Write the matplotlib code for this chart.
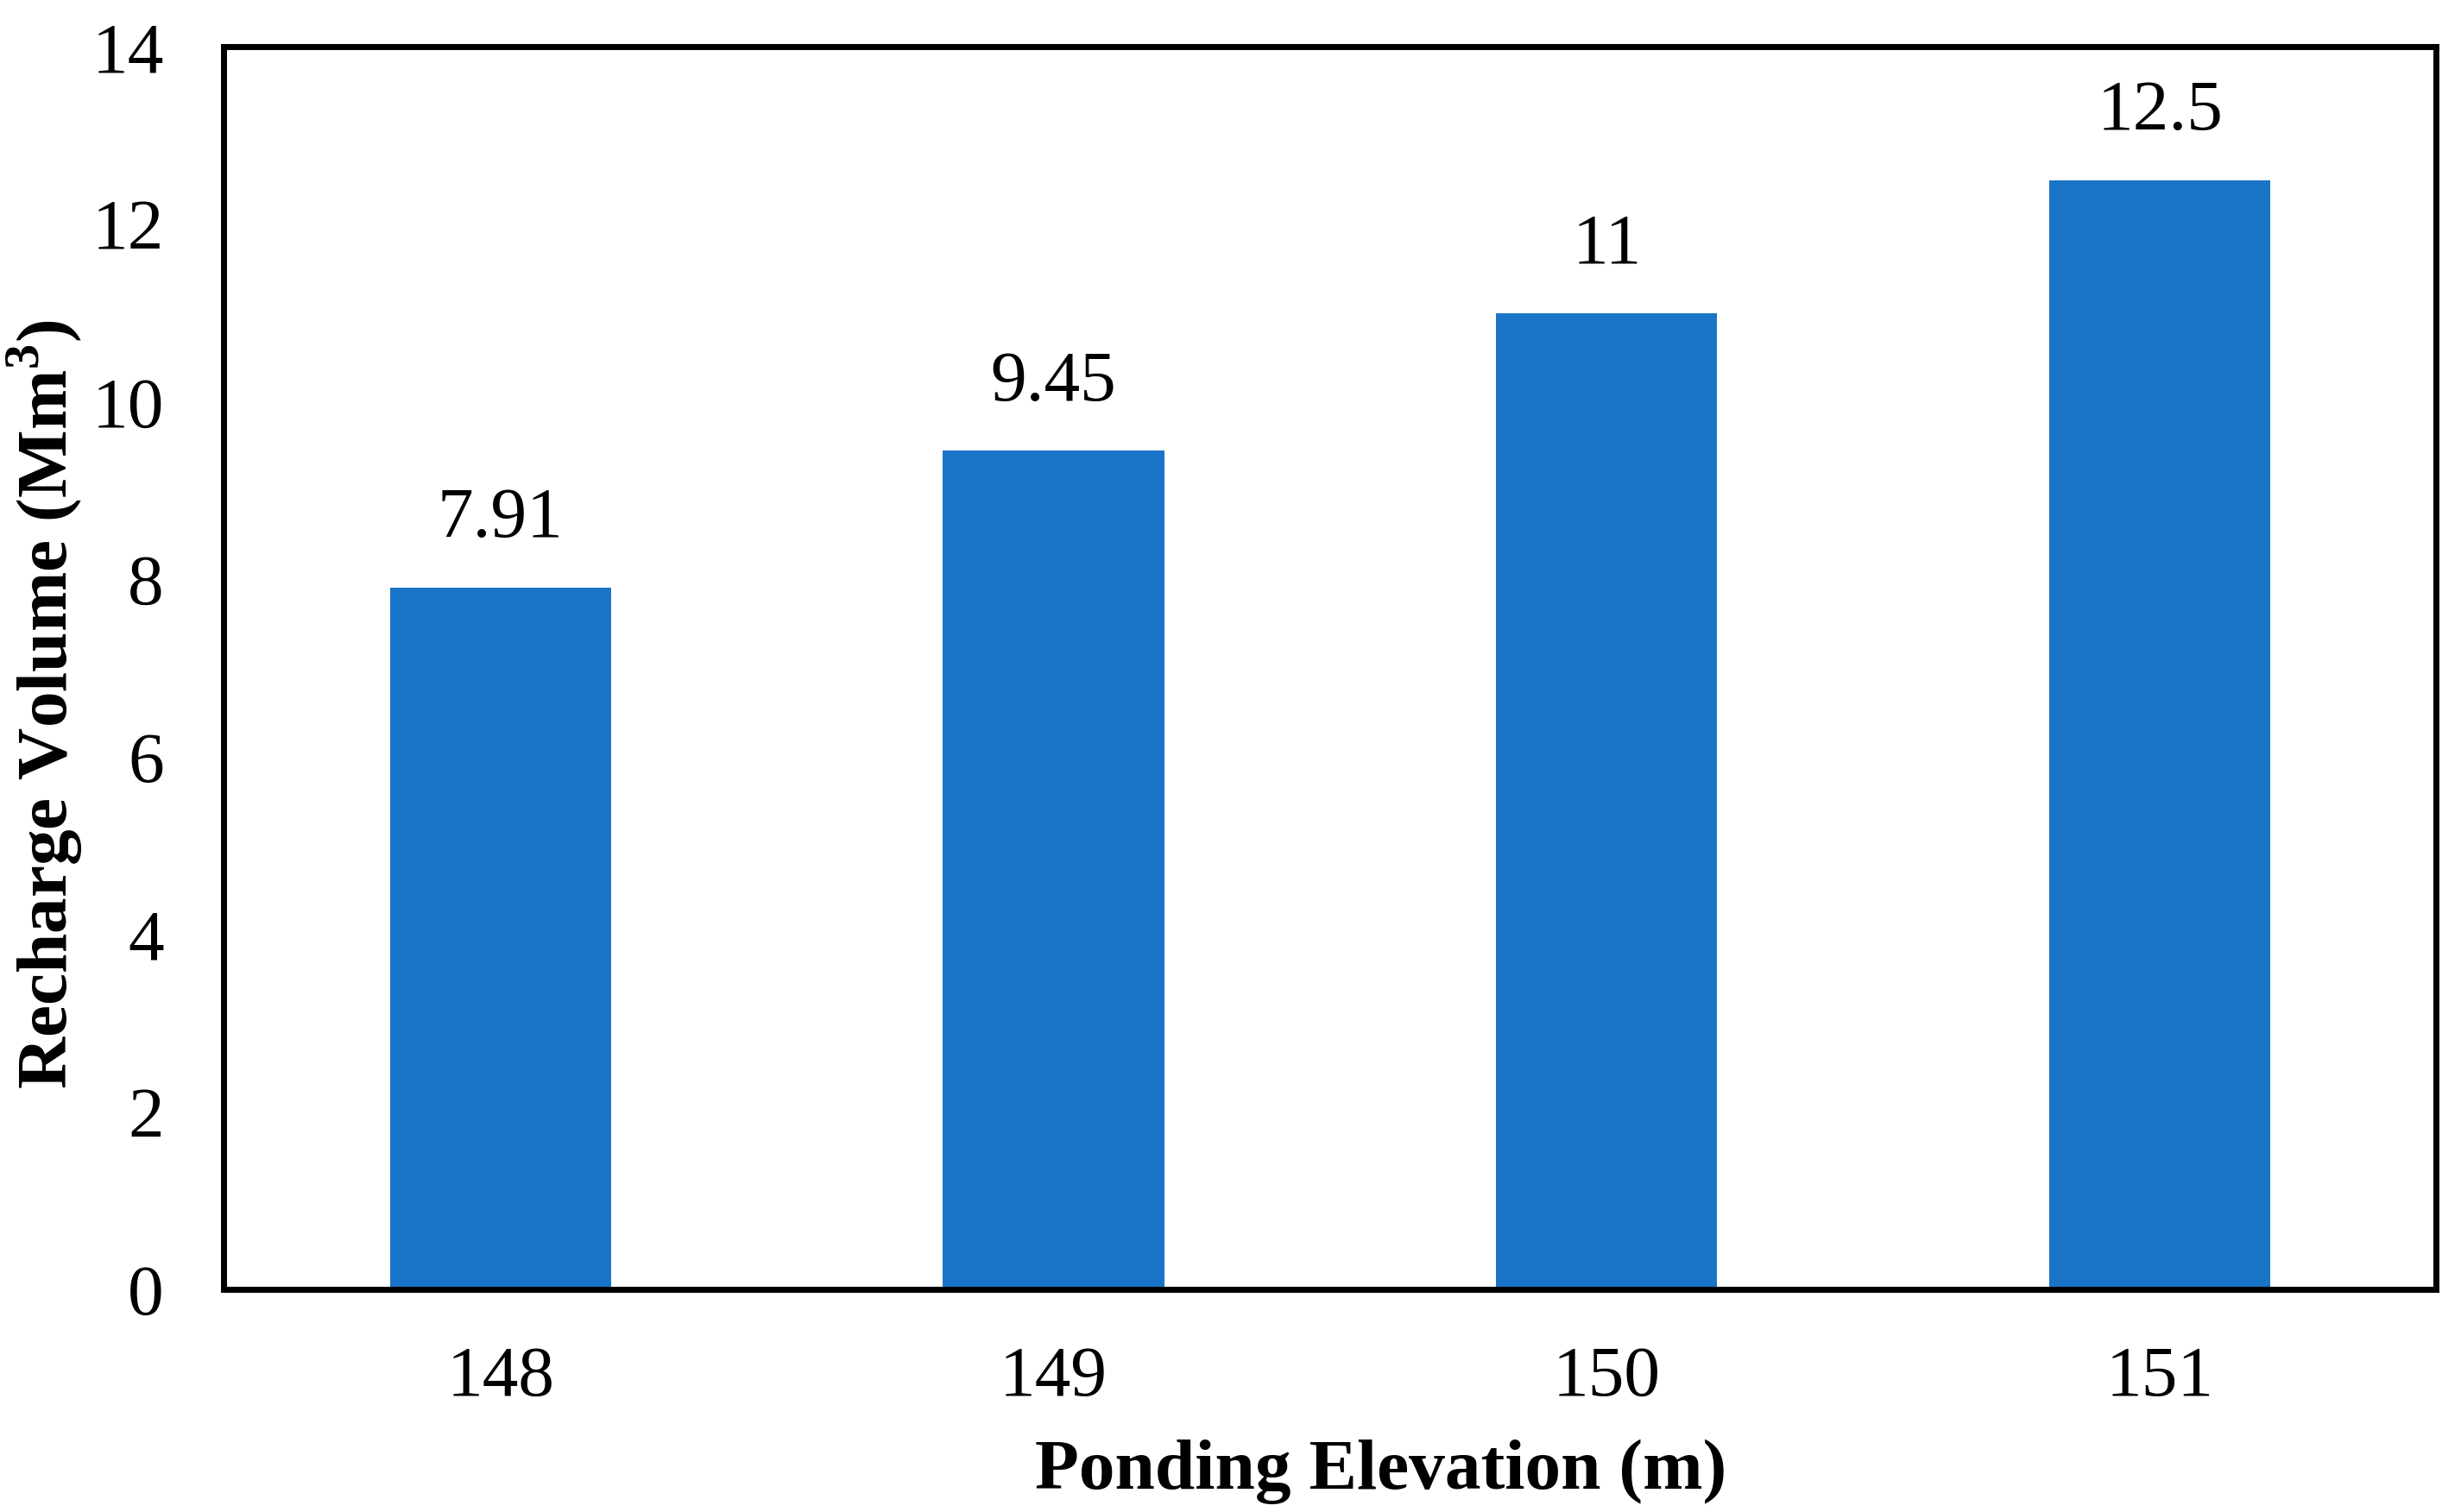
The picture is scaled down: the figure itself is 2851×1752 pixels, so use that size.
import numpy as np
import matplotlib.pyplot as plt

elevations = ['148', '149', '150', '151']
volumes = [7.91, 9.45, 11, 12.5]
value_labels = ['7.91', '9.45', '11', '12.5']

plt.rcParams['font.family'] = ['Liberation Serif', 'DejaVu Serif']
plt.rcParams['mathtext.fontset'] = 'custom'
plt.rcParams['mathtext.rm'] = 'Liberation Serif'
plt.rcParams['mathtext.bf'] = 'Liberation Serif:bold'

fig = plt.figure(figsize=(28.51, 17.52), dpi=100)
ax = fig.add_axes([0.091, 0.147, 0.899, 0.822])

x = np.arange(len(elevations))
bars = ax.bar(x, volumes, width=0.4, color='#1A74C8', zorder=2)

for xi, v, lab in zip(x, volumes, value_labels):
	ax.annotate(lab, (xi, v), xytext=(0, 29), textcoords='offset points',
		ha='center', va='bottom', fontsize=60)

ax.set_xlim(-0.5, 3.5)
ax.set_ylim(0, 14)
ax.set_yticks(np.arange(0, 15, 2))
ax.set_xticks(x)
ax.set_xticklabels(elevations)
ax.tick_params(axis='both', length=0, labelsize=60)
ax.tick_params(axis='x', pad=47)
ax.tick_params(axis='y', pad=50)

for s in ax.spines.values():
	s.set_linewidth(5)

ax.set_xlabel('Ponding Elevation (m)', fontsize=60, fontweight='bold')
ax.xaxis.set_label_coords(0.523, -0.12)
ax.set_ylabel(r'Recharge Volume (Mm$^{\mathbf{3}}$)', fontsize=60, fontweight='bold')
ax.yaxis.set_label_coords(-0.063, 0.471)

fig.savefig('out.png', dpi=100)
